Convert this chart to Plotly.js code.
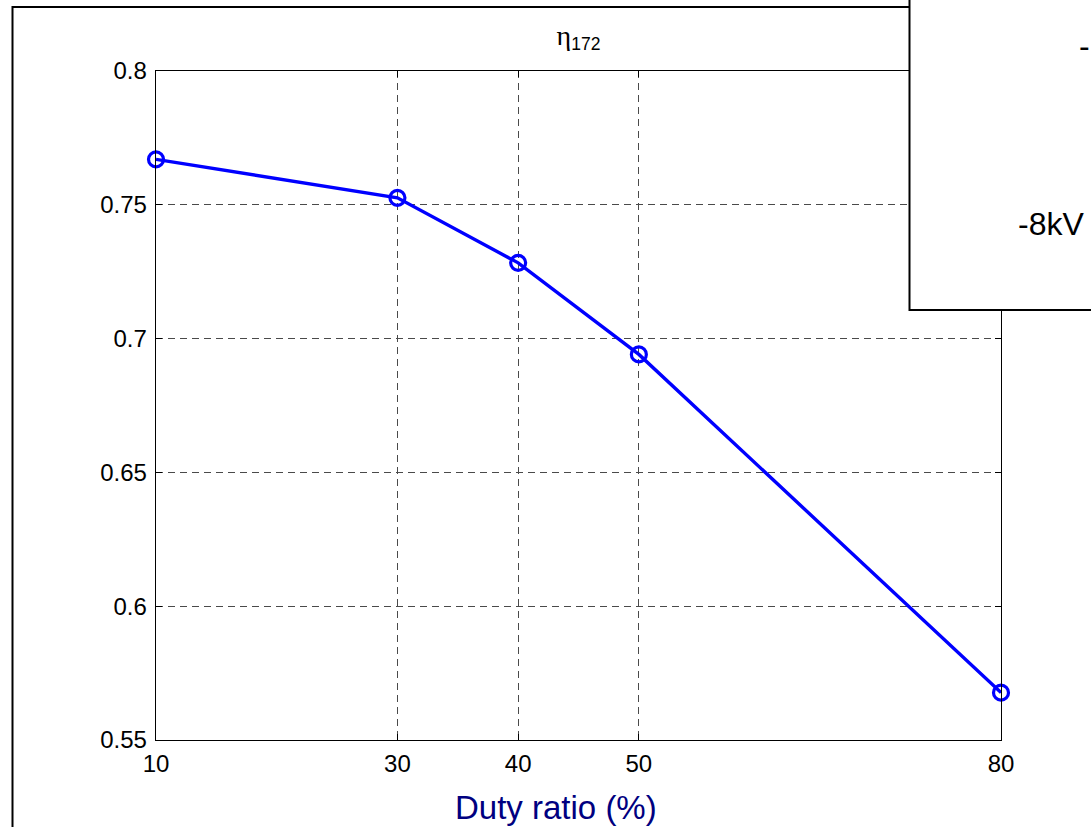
<!DOCTYPE html>
<html>
<head>
<meta charset="utf-8">
<script src="https://cdn.plot.ly/plotly-3.0.1.min.js"></script>
<style>html,body{margin:0;padding:0;background:#fff;}#chart{width:1091px;height:827px;}</style>
</head>
<body>
<div id="chart"></div>
<script>
// Data
const dutyRatio = [10, 30, 40, 50, 80];
const eta172 = [0.767, 0.7526, 0.7283, 0.6941, 0.5677];
const xTickVals = [10, 30, 40, 50, 80];
const xTickText = ['10', '30', '40', '50', '80'];
const yTickVals = [0.55, 0.6, 0.65, 0.7, 0.75, 0.8];
const yTickText = ['0.55', '0.6', '0.65', '0.7', '0.75', '0.8'];
const titleText = '<span style="font-family:\'Liberation Serif\';font-size:28px">η</span><sub>172</sub>';
const xTitleText = 'Duty ratio (%)';
const legendLines = ['-', '-8kV'];

// Layout helpers (pixel -> paper)
const W = 1091, H = 827;
const L = 156, R = 90, T = 71, B = 87;
const PW = W - L - R, PH = H - T - B;
const px = v => (v - L) / PW;
const py = v => (H - B - v) / PH;

const trace = {
  x: dutyRatio,
  y: eta172,
  type: 'scatter',
  mode: 'lines+markers',
  line: {color: '#0000ff', width: 3.4},
  marker: {symbol: 'circle-open', size: 15, color: '#0000ff', line: {color: '#0000ff', width: 3.2}},
  cliponaxis: false,
  showlegend: false
};

const axisCommon = {
  showline: true,
  mirror: 'ticks',
  linecolor: '#000',
  linewidth: 1.3,
  ticks: 'inside',
  ticklen: 6,
  tickcolor: '#000',
  tickwidth: 1,
  showgrid: true,
  gridcolor: '#4a4a4a',
  gridwidth: 1,
  griddash: '7px,5px',
  zeroline: false,
  tickfont: {family: 'Liberation Sans, Arial, sans-serif', size: 24, color: '#000'}
};

const layout = {
  width: W, height: H,
  margin: {l: L, r: R, t: T, b: B, pad: 0},
  paper_bgcolor: '#fff',
  plot_bgcolor: '#fff',
  showlegend: false,
  title: {
    text: titleText,
    font: {family: 'Liberation Sans, Arial, sans-serif', size: 25, color: '#000'},
    x: 0.5, xref: 'paper', xanchor: 'center',
    y: 1 - 36 / H, yref: 'container', yanchor: 'middle'
  },
  xaxis: Object.assign({}, axisCommon, {
    range: [10, 80],
    tickmode: 'array', tickvals: xTickVals, ticktext: xTickText,
    ticklabelstandoff: 2
  }),
  yaxis: Object.assign({}, axisCommon, {
    range: [0.55, 0.8],
    tickmode: 'array', tickvals: yTickVals, ticktext: yTickText,
    ticklabelstandoff: 3
  }),
  shapes: [
    {type: 'rect', xref: 'paper', yref: 'paper', layer: 'below',
     x0: px(12.5), x1: px(1110), y0: py(850), y1: py(7),
     line: {color: '#000', width: 2}, fillcolor: 'rgba(0,0,0,0)'},
    {type: 'rect', xref: 'paper', yref: 'paper', layer: 'above',
     x0: px(909.5), x1: px(1110), y0: py(310), y1: py(-10),
     line: {color: '#000', width: 2}, fillcolor: '#fff'}
  ],
  annotations: [
    {text: xTitleText, xref: 'paper', yref: 'paper', x: px(556), y: py(807),
     xanchor: 'center', yanchor: 'middle', showarrow: false,
     font: {family: 'Liberation Sans, Arial, sans-serif', size: 33, color: '#000080'}},
    {text: legendLines[0], xref: 'paper', yref: 'paper', x: px(1092), y: py(46),
     xanchor: 'right', yanchor: 'middle', showarrow: false,
     font: {family: 'Liberation Sans, Arial, sans-serif', size: 32, color: '#000'}},
    {text: legendLines[1], xref: 'paper', yref: 'paper', x: px(1016), y: py(224),
     xanchor: 'left', yanchor: 'middle', showarrow: false,
     font: {family: 'Liberation Sans, Arial, sans-serif', size: 32, color: '#000'}}
  ]
};

Plotly.newPlot('chart', [trace], layout, {displayModeBar: false, staticPlot: true});
</script>
</body>
</html>
